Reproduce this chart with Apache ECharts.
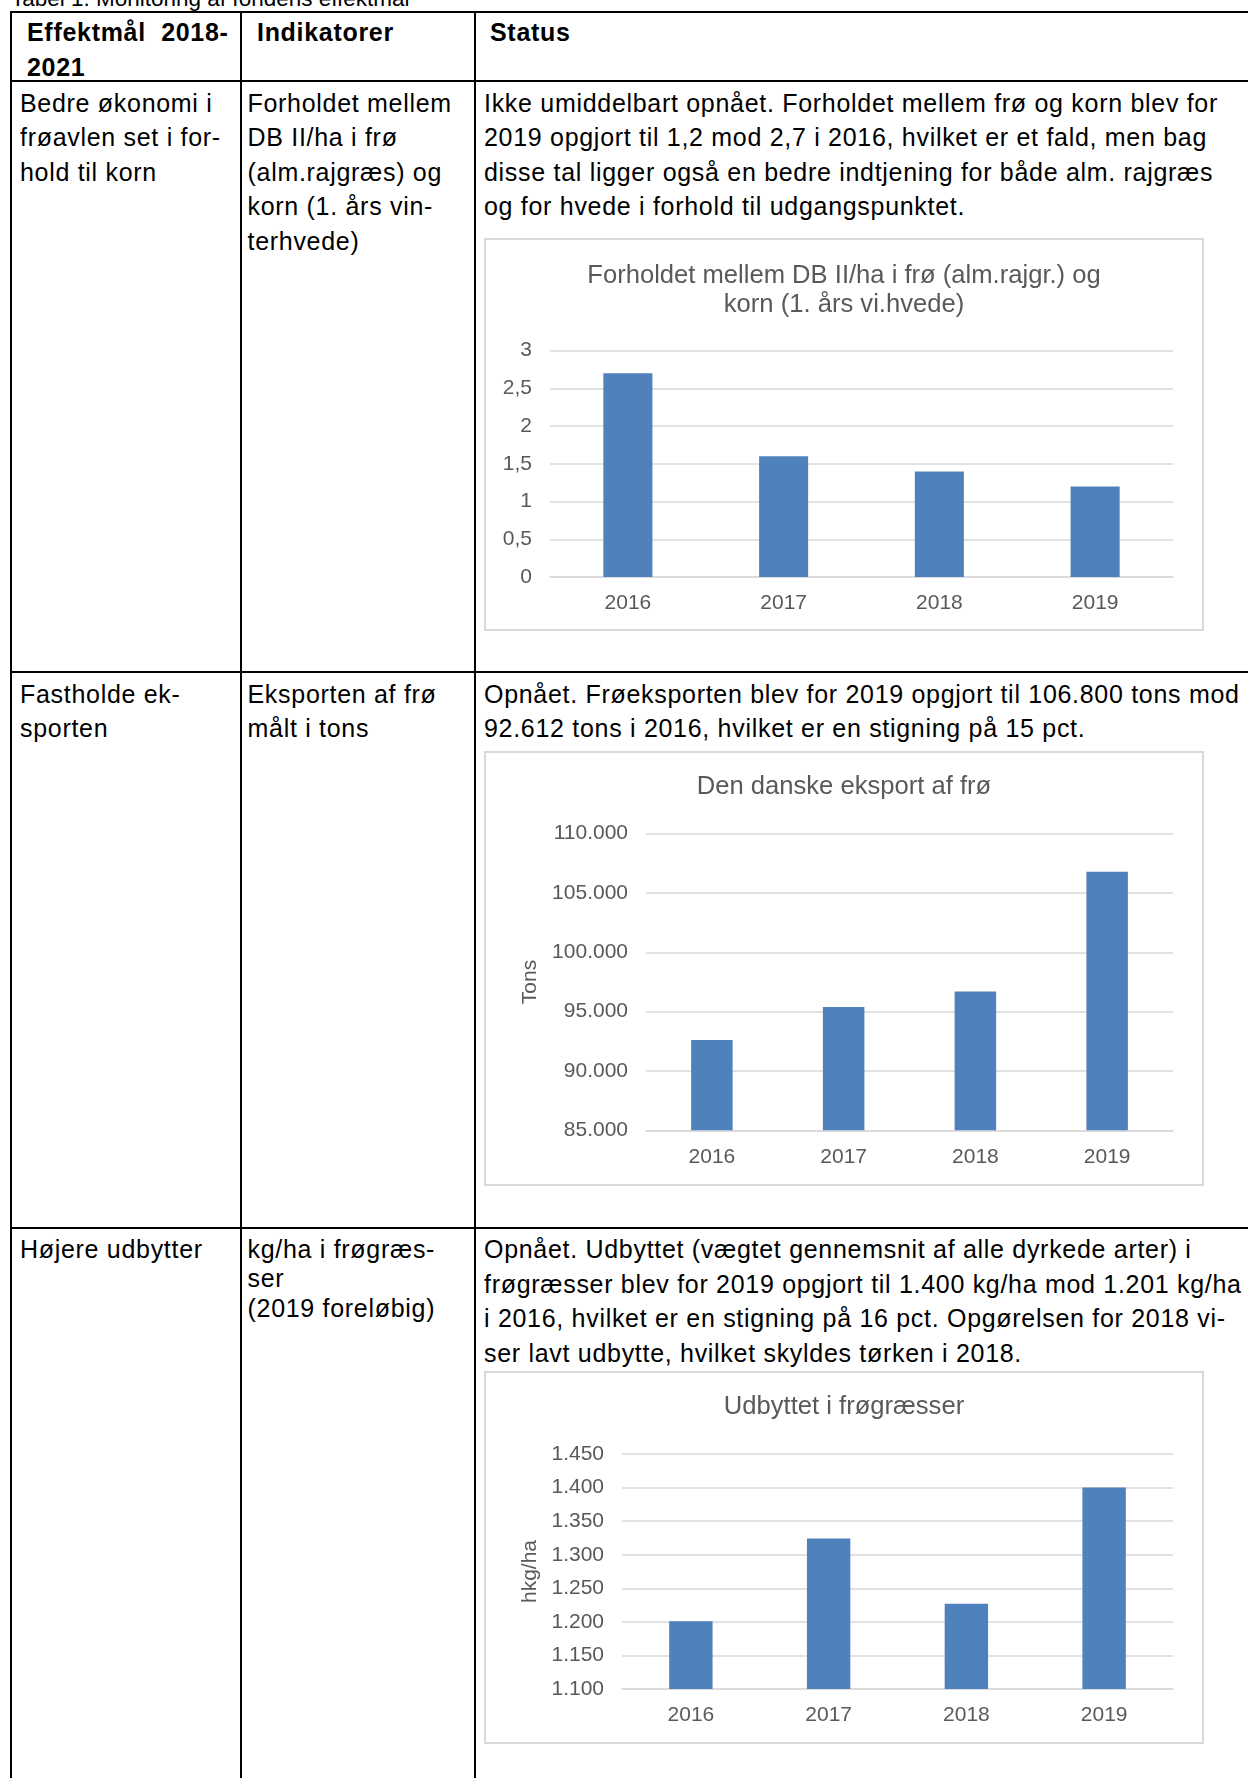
<!DOCTYPE html>
<html>
<head>
<meta charset="utf-8">
<title>Tabel 1. Monitoring af fondens effektmål</title>
<script src="https://cdn.jsdelivr.net/npm/echarts@6/dist/echarts.min.js"></script>
<style>
  html, body { margin: 0; padding: 0; background: #fff; }
  body {
    width: 1248px; height: 1778px; position: relative; overflow: hidden;
    font-family: Arial, "Liberation Sans", sans-serif; color: #000;
  }
  .caption { position: absolute; left: 11px; top: -18px; font-size: 22.5px; line-height: 34.5px; white-space: nowrap; }
  .line { position: absolute; background: #000; }
  .hl { left: 10px; width: 1238px; height: 2px; }
  .vl { top: 11px; width: 2px; height: 1767px; }
  .cell { position: absolute; font-size: 25px; line-height: 34.5px; letter-spacing: 0.7px; white-space: nowrap; }
  .head { font-weight: bold; }
  .chart { position: absolute; left: 484px; width: 716px; border: 2px solid #d9d9d9; }
</style>
</head>
<body>
<div class="caption">Tabel 1. Monitoring af fondens effektmål</div>

<!-- tabellens linjer -->
<div class="line hl" style="top:11px"></div>
<div class="line hl" style="top:80px"></div>
<div class="line hl" style="top:671px"></div>
<div class="line hl" style="top:1227px"></div>
<div class="line vl" style="left:10px"></div>
<div class="line vl" style="left:240px"></div>
<div class="line vl" style="left:474px"></div>

<!-- header -->
<div class="cell head" style="left:27px;top:15px">Effektmål&nbsp; 2018-<br>2021</div>
<div class="cell head" style="left:257px;top:15px">Indikatorer</div>
<div class="cell head" style="left:490px;top:15px">Status</div>

<!-- række 1 -->
<div class="cell" style="left:20px;top:85.5px">Bedre økonomi i<br>frøavlen set i for-<br>hold til korn</div>
<div class="cell" style="left:247.5px;top:85.5px">Forholdet mellem<br>DB II/ha i frø<br>(alm.rajgræs) og<br>korn (1. års vin-<br>terhvede)</div>
<div class="cell" style="left:484px;top:85.5px">Ikke umiddelbart opnået. Forholdet mellem frø og korn blev for<br>2019 opgjort til 1,2 mod 2,7 i 2016, hvilket er et fald, men bag<br>disse tal ligger også en bedre indtjening for både alm. rajgræs<br>og for hvede i forhold til udgangspunktet.</div>
<div class="chart" id="chartForhold" style="top:238px;height:389px"></div>

<!-- række 2 -->
<div class="cell" style="left:20px;top:676.5px">Fastholde ek-<br>sporten</div>
<div class="cell" style="left:247.5px;top:676.5px">Eksporten af frø<br>målt i tons</div>
<div class="cell" style="left:484px;top:676.5px">Opnået. Frøeksporten blev for 2019 opgjort til 106.800 tons mod<br>92.612 tons i 2016, hvilket er en stigning på 15 pct.</div>
<div class="chart" id="chartEksport" style="top:751px;height:431px"></div>

<!-- række 3 -->
<div class="cell" style="left:20px;top:1232px">Højere udbytter</div>
<div class="cell" style="left:247.5px;top:1232px;line-height:29.5px;padding-top:2.5px">kg/ha i frøgræs-<br>ser<br>(2019 foreløbig)</div>
<div class="cell" style="left:484px;top:1232px">Opnået. Udbyttet (vægtet gennemsnit af alle dyrkede arter) i<br>frøgræsser blev for 2019 opgjort til 1.400 kg/ha mod 1.201 kg/ha<br>i 2016, hvilket er en stigning på 16 pct. Opgørelsen for 2018 vi-<br>ser lavt udbytte, hvilket skyldes tørken i 2018.</div>
<div class="chart" id="chartUdbytte" style="top:1371px;height:369px"></div>

<script>
  // data
  const years = ['2016', '2017', '2018', '2019']
  const forholdValues = [2.7, 1.6, 1.4, 1.2]
  const eksportValues = [92612, 95400, 96700, 106800]
  const udbytteValues = [1201, 1324, 1227, 1400]
  // akser: [min, max, interval]
  const forholdAxis = [0, 3, 0.5]
  const eksportAxis = [85000, 110000, 5000]
  const udbytteAxis = [1100, 1450, 50]

  const FONT = 'Arial, "Liberation Sans", sans-serif'
  const GREY = '#595959'
  const GRID_LINE = '#d9d9d9'

  // decimalkomma
  function commaDecimal (v) {
    return String(v).replace('.', ',')
  }
  // tusindtalsseparator med punktum
  function thousandDots (v) {
    return String(v).replace(/\B(?=(\d{3})+(?!\d))/g, '.')
  }

  function getOption (cfg) {
    return {
      animation: false,
      title: {
        text: cfg.title,
        left: 'center',
        top: cfg.titleTop,
        textStyle: { color: GREY, fontSize: 25.6, fontWeight: 'normal', fontFamily: FONT, lineHeight: 29 }
      },
      grid: cfg.grid,
      xAxis: {
        type: 'category',
        data: years,
        axisTick: { show: false },
        axisLine: { show: true, lineStyle: { color: GRID_LINE, width: 1.5 } },
        axisLabel: { color: GREY, fontSize: 21, fontFamily: FONT, margin: 16 }
      },
      yAxis: {
        type: 'value',
        min: cfg.axis[0],
        max: cfg.axis[1],
        interval: cfg.axis[2],
        name: cfg.name || '',
        nameLocation: 'middle',
        nameGap: cfg.nameGap || 0,
        nameTextStyle: { color: GREY, fontSize: 21, fontFamily: FONT },
        axisLine: { show: false },
        axisTick: { show: false },
        axisLabel: { color: GREY, fontSize: 21, fontFamily: FONT, margin: 18, formatter: cfg.formatter },
        splitLine: { show: true, lineStyle: { color: GRID_LINE, width: 1.5 } }
      },
      series: [{
        type: 'bar',
        data: cfg.data,
        barWidth: '31.5%',
        itemStyle: { color: '#4f81bd' }
      }]
    }
  }

  const chartForhold = echarts.init(document.getElementById('chartForhold'))
  chartForhold.setOption(getOption({
    title: 'Forholdet mellem DB II/ha i frø (alm.rajgr.) og\nkorn (1. års vi.hvede)',
    titleTop: 16.5,
    grid: { left: 64, right: 29, top: 110.7, bottom: 52 },
    axis: forholdAxis,
    formatter: commaDecimal,
    data: forholdValues
  }))

  const chartEksport = echarts.init(document.getElementById('chartEksport'))
  chartEksport.setOption(getOption({
    title: 'Den danske eksport af frø',
    titleTop: 14.5,
    grid: { left: 160, right: 29, top: 80.7, bottom: 53.7 },
    axis: eksportAxis,
    formatter: thousandDots,
    name: 'Tons',
    nameGap: 104,
    data: eksportValues
  }))

  const chartUdbytte = echarts.init(document.getElementById('chartUdbytte'))
  chartUdbytte.setOption(getOption({
    title: 'Udbyttet i frøgræsser',
    titleTop: 14.5,
    grid: { left: 136, right: 29, top: 81, bottom: 53 },
    axis: udbytteAxis,
    formatter: thousandDots,
    name: 'hkg/ha',
    nameGap: 80,
    data: udbytteValues
  }))
</script>
</body>
</html>
